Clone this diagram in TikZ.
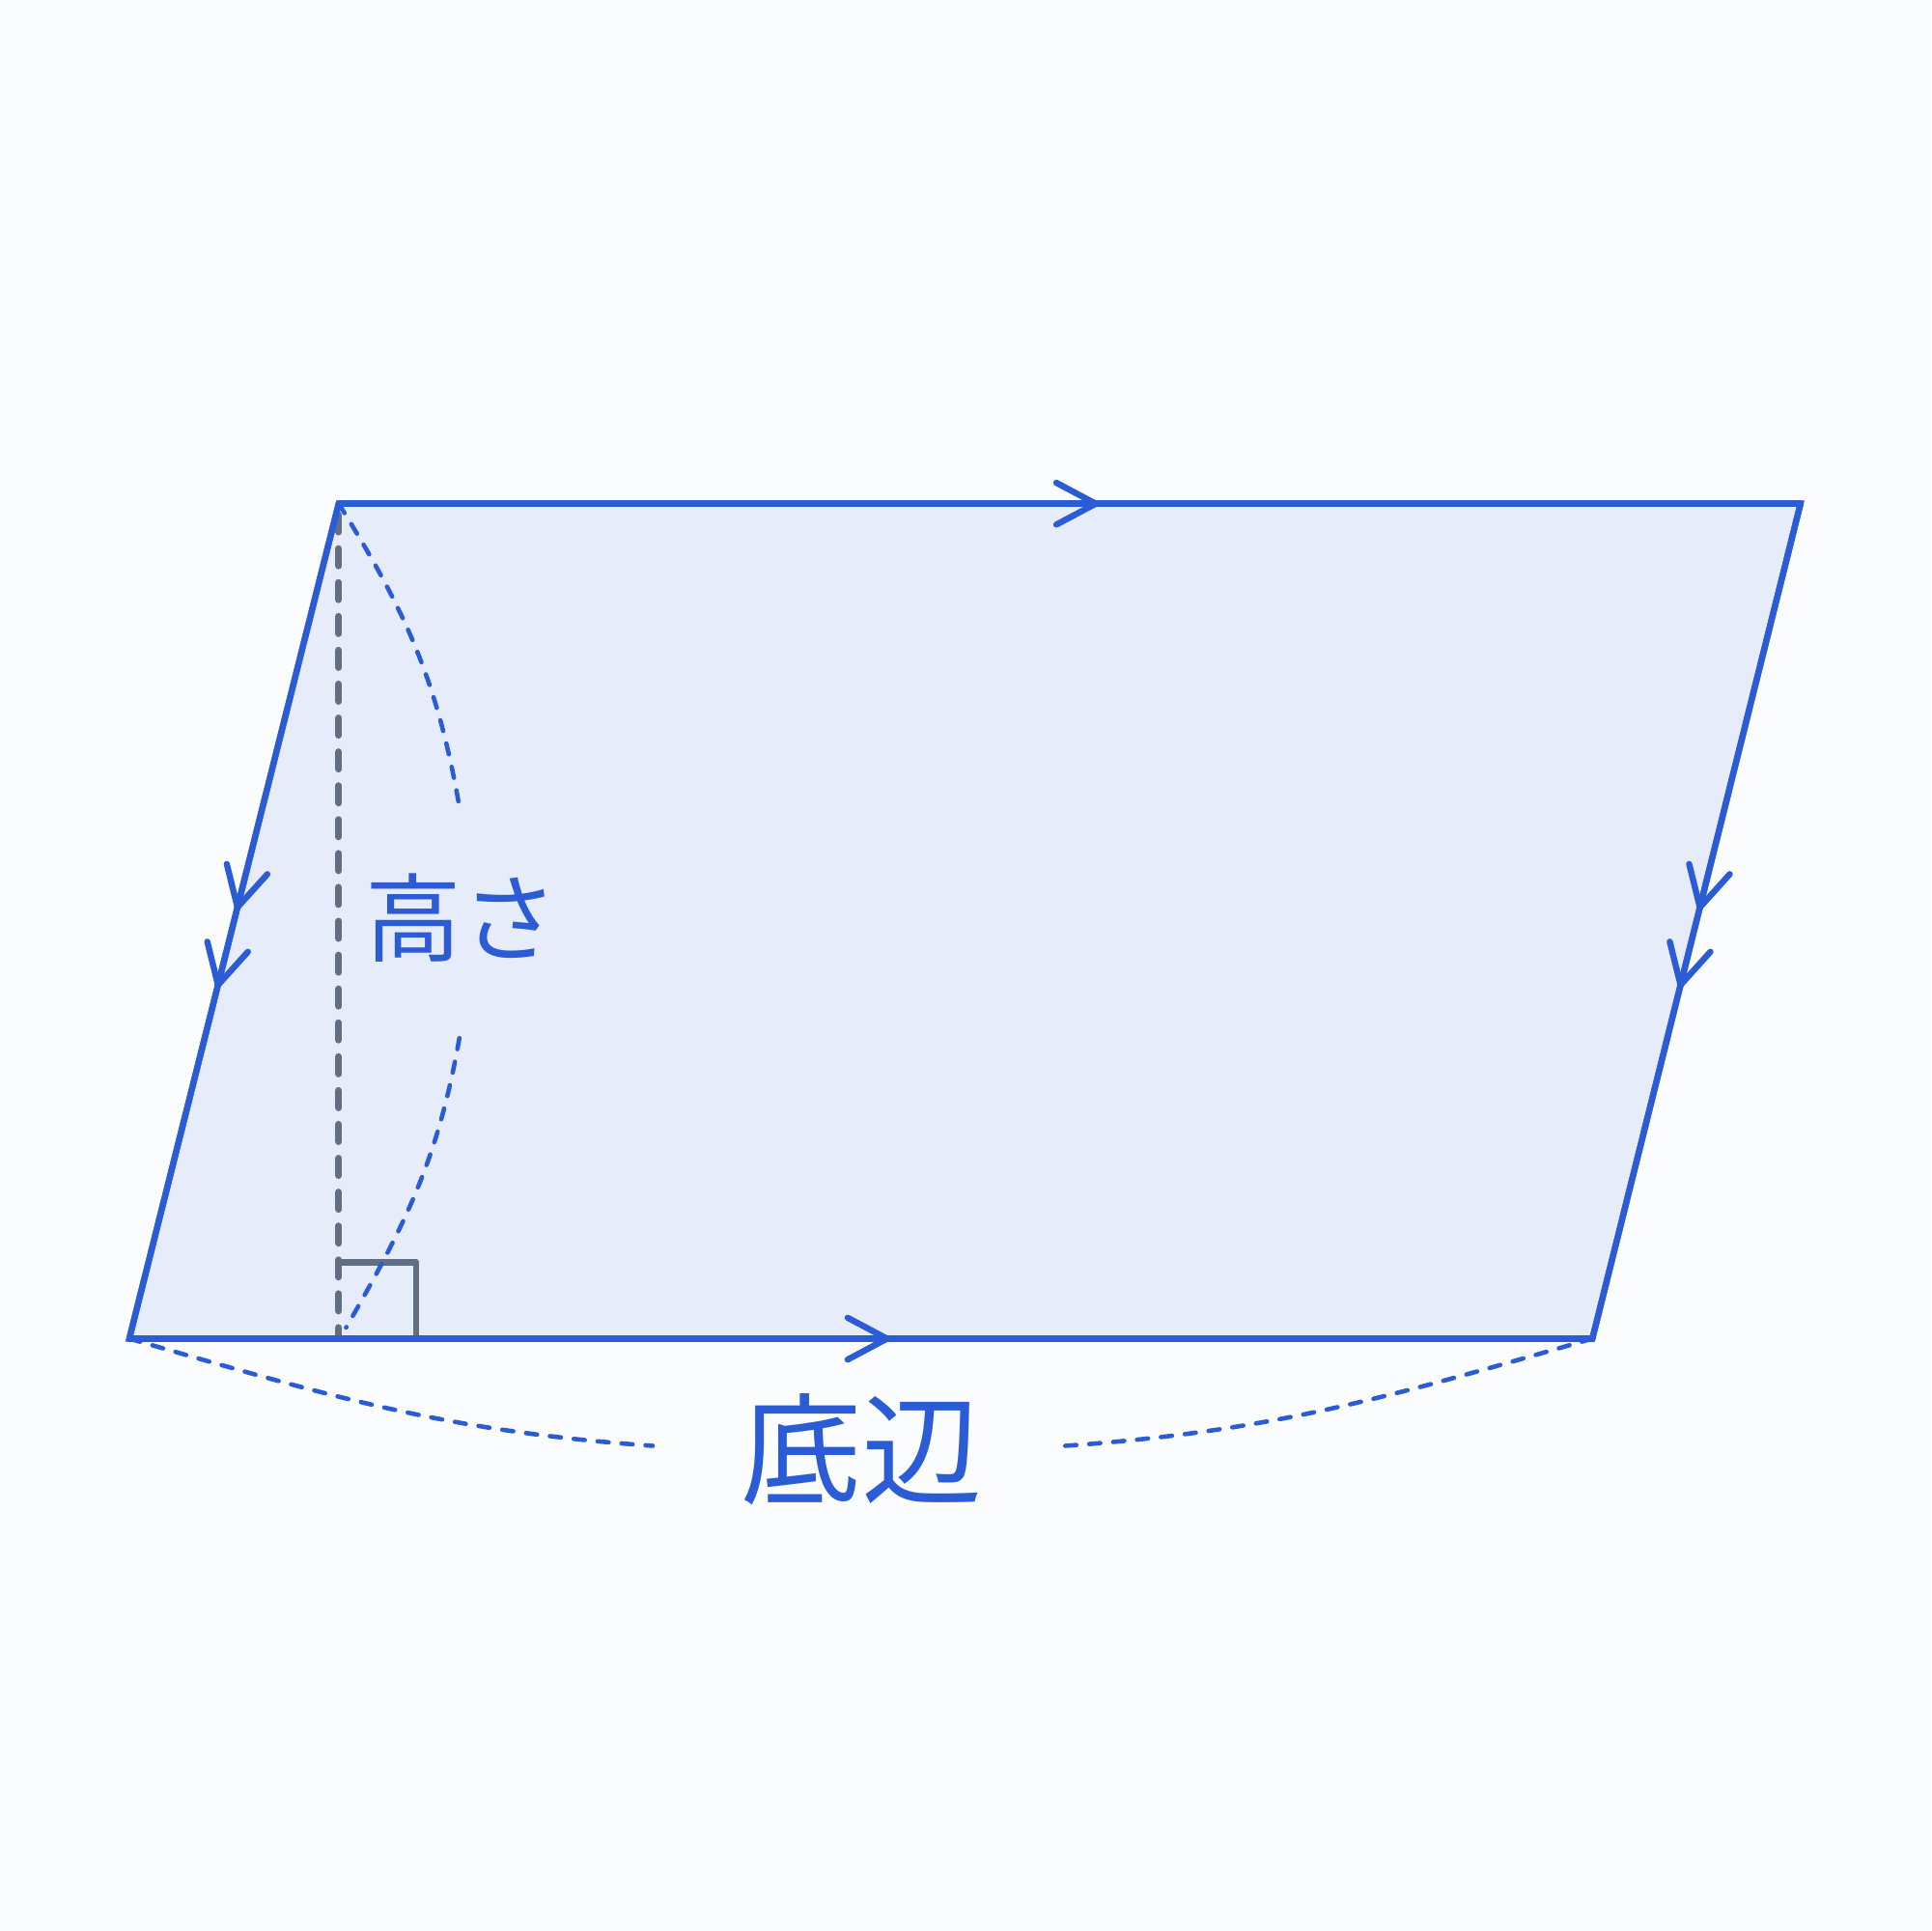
\documentclass[tikz,border=0pt]{standalone}
\usepackage{fontspec}
\newfontfamily\cjk{Noto Sans CJK JP}
\usetikzlibrary{decorations.markings,arrows.meta}
\definecolor{edgeblue}{HTML}{2B5CD6}
\definecolor{facefill}{HTML}{E6ECFA}
\definecolor{bgcol}{HTML}{FBFCFE}
\definecolor{auxgrey}{HTML}{646E82}
\tikzset{
  chev/.tip={Straight Barb[length=32pt,width=34pt,round]},
  sideedge/.style={draw=edgeblue,line width=5pt,line cap=round},
  onearrow/.style={postaction={decorate},decoration={markings,
      mark=at position #1 with {\arrow{chev}}}},
  twoarrows/.style={postaction={decorate},decoration={markings,
      mark=at position 0.487 with {\arrow{chev}},
      mark=at position 0.58 with {\arrow{chev}}}},
  helper/.style={draw=edgeblue,line width=3.6pt,line cap=round,dash pattern=on 9pt off 10.5pt},
  heightline/.style={draw=auxgrey,line width=5.6pt,line cap=round,dash pattern=on 14pt off 13.5pt},
  rightmark/.style={draw=auxgrey,line width=5pt,line join=round},
  lbl/.style={text=edgeblue,inner sep=0pt,font=\cjk}
}
\begin{document}
\begin{tikzpicture}[x=1pt,y=-1pt]
\fill[bgcol] (0,0) rectangle (1568,1568);
\useasboundingbox (0,0) rectangle (1568,1568);
\coordinate (A) at (275,409);
\coordinate (B) at (1462,409);
\coordinate (C) at (1293,1087);
\coordinate (D) at (105,1087);
\coordinate (F) at (275,1087);
\coordinate (R1) at (275,1025);
\coordinate (R2) at (338,1025);
\coordinate (R3) at (338,1087);
\coordinate (H1) at (373,655);
\coordinate (H2) at (373,843);
\coordinate (W1) at (530,1174);
\coordinate (W2) at (865,1174);
\fill[facefill] (A) -- (B) -- (C) -- (D) -- cycle;
\draw[heightline] (275,418) -- (F);
\draw[rightmark] (R1) -- (R2) -- (R3);
\draw[sideedge,onearrow=0.52] (A) -- (B);
\draw[sideedge,onearrow=0.52] (D) -- (C);
\draw[sideedge,twoarrows] (A) -- (D);
\draw[sideedge,twoarrows] (B) -- (C);
\draw[edgeblue,line width=5pt,line join=miter] (A) -- (B) -- (C) -- (D) -- cycle;
\node[lbl,font=\cjk\fontsize{78}{90}\selectfont] (h) at (375,745) {高さ};
\node[lbl,font=\cjk\fontsize{98}{110}\selectfont] (w) at (700,1177) {底辺};
\draw[helper] (A) to[out=-58,in=100] (H1);
\draw[helper] (H2) to[out=-100,in=60] (281,1078);
\draw[helper] (D) to[out=-16,in=176] (W1);
\draw[helper] (W2) to[out=4,in=-164] (C);
\end{tikzpicture}
\end{document}
